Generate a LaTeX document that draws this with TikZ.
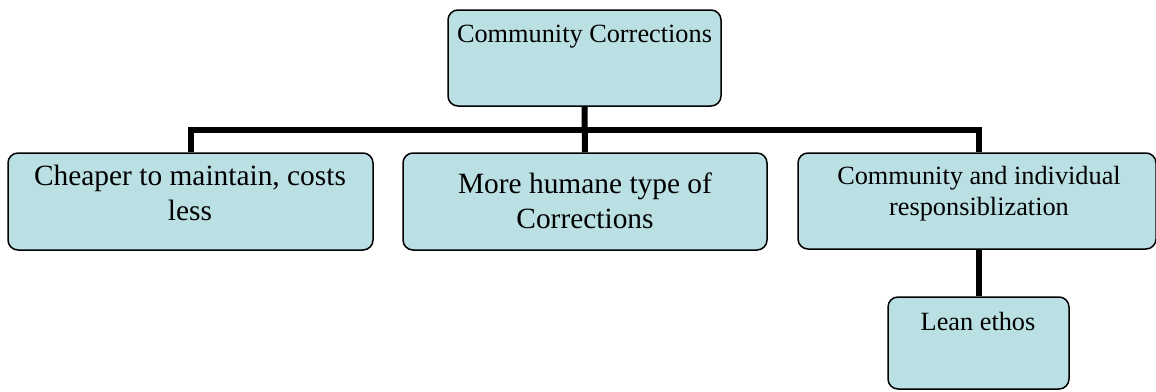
\documentclass[tikz,border=0pt]{standalone}
\usepackage{fontspec}
\setmainfont{Liberation Serif}
\usepackage{tikz}
\definecolor{cajaazul}{HTML}{BBE0E3}
\newcommand{\letra}{\fontsize{13.15}{17.5}\selectfont}
\newcommand{\letragrande}{\fontsize{14.7}{17.5}\selectfont}

\begin{document}
\begin{tikzpicture}[x=0.5pt,y=-0.5pt,
  caja/.style={draw,line width=0.75pt,rounded corners=5pt,fill=cajaazul,inner sep=0pt},
  texto/.style={anchor=north,align=center,inner sep=0pt,font=\letra},
  linea/.style={line width=3pt,line join=miter}]
  \useasboundingbox (0,0) rectangle (1156,391);

  % cajas
  \node[caja,minimum width=136.5pt,minimum height=48pt] (top) at (584.5,58) {};
  \node[caja,minimum width=182.5pt,minimum height=48.5pt] (cheap) at (190.5,201.5) {};
  \node[caja,minimum width=182pt,minimum height=48.5pt] (humane) at (585,201.5) {};
  \node[caja,minimum width=179pt,minimum height=48pt] (resp) at (977,201) {};
  \node[caja,minimum width=90.5pt,minimum height=46pt] (lean) at (978.5,343) {};

  % textos
  \node[texto] (topt) at (584.5,25) {Community Corrections};
  \node[texto,font=\letragrande] (cheapt) at (190,165) {Cheaper to maintain, costs\\ less};
  \node[texto,font=\letragrande] (humanet) at (585,172) {More humane type of\\ Corrections};
  \node[texto] (respt) at (979,166) {Community and individual\\[-2pt] responsiblization};
  \node[texto] (leant) at (978,312) {Lean ethos};

  % lineas
  \coordinate (bus) at (0,130);
  \draw[linea] (top.south) -- (humane.north);
  \draw[linea] (cheap.north) -- (cheap.north |- bus) -- (lean.north |- bus) -- (lean.north |- resp.north);
  \draw[linea] (lean.north |- resp.south) -- (lean.north);
\end{tikzpicture}
\end{document}
